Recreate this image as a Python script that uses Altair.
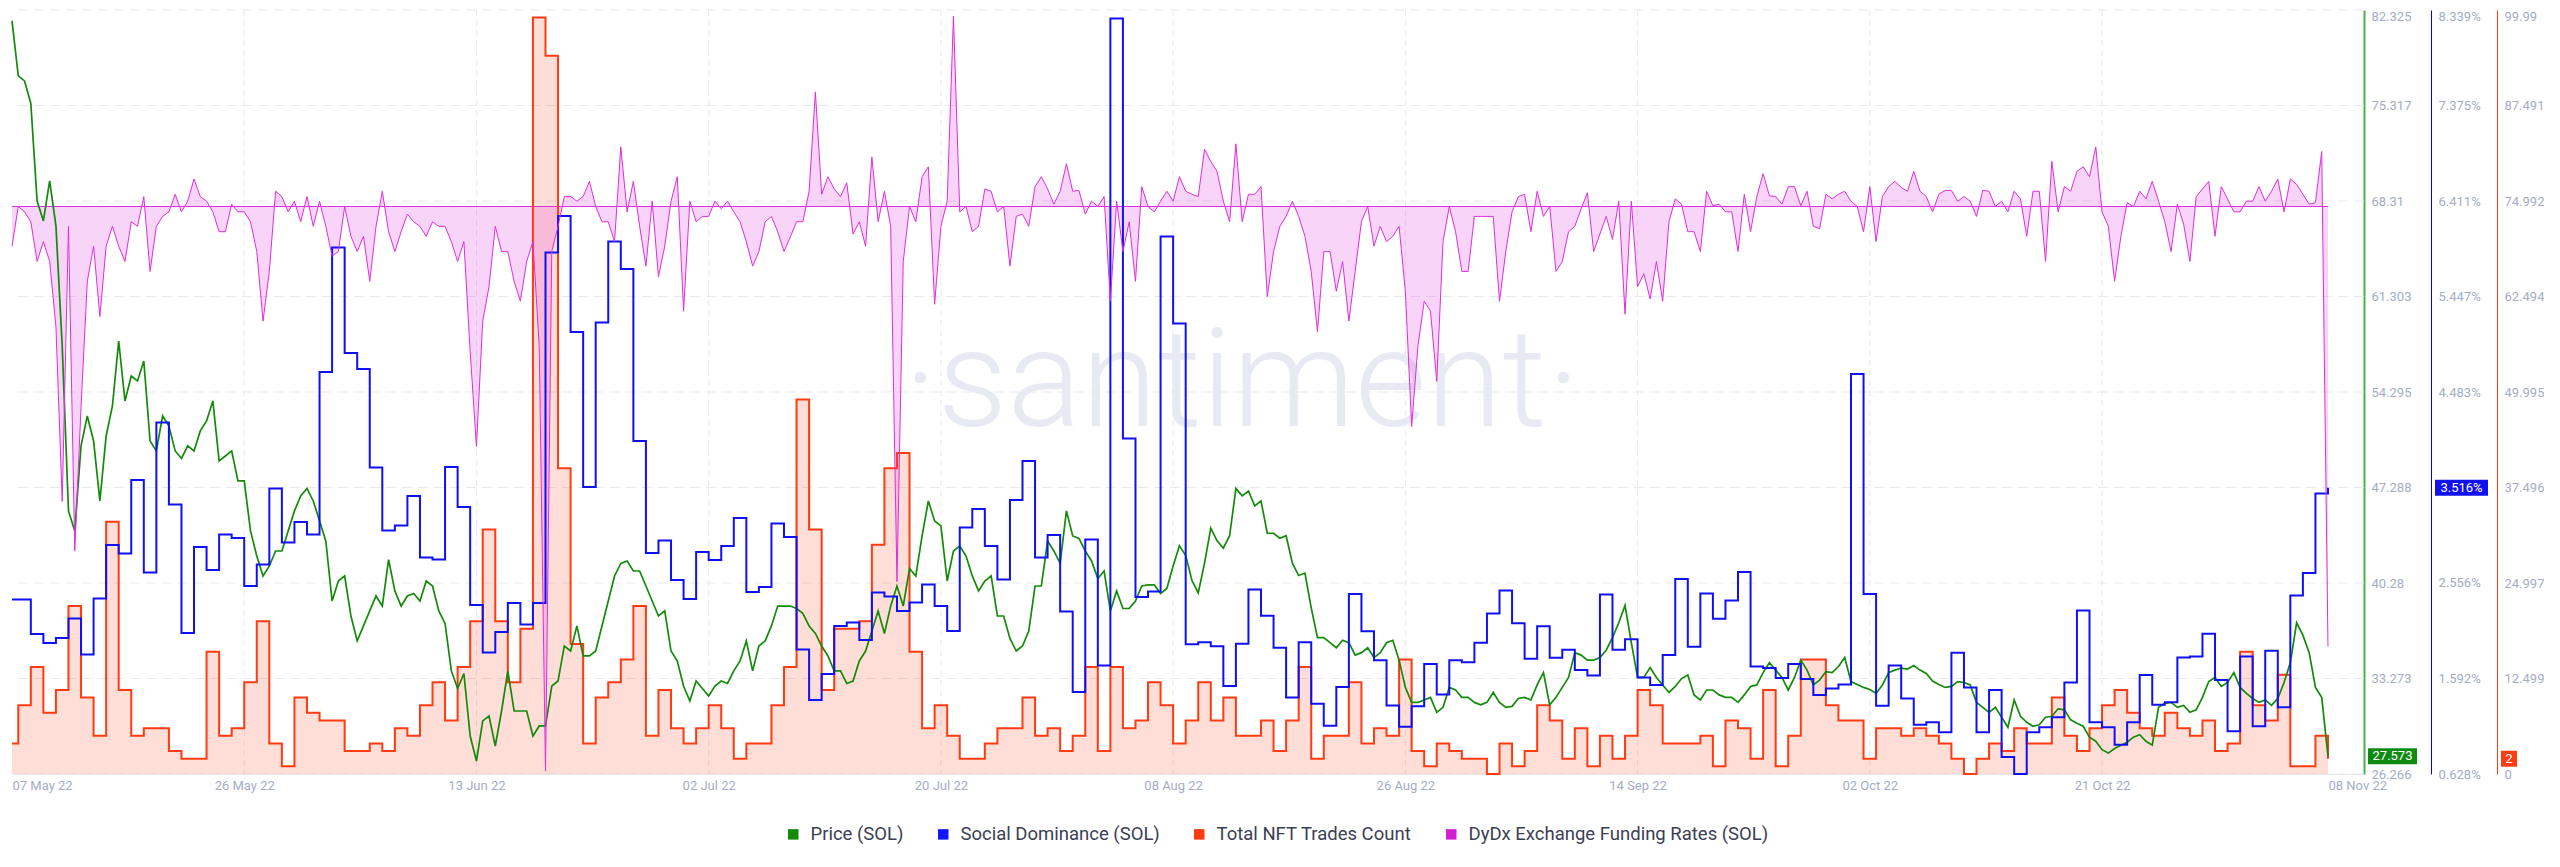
import altair as alt
import pandas as pd

# ---------------- data ----------------
# Price (SOL), USD, every 12 hours from 2022-05-07 12:00 UTC to 2022-11-08 00:00 UTC
price_sol = [
    81.52, 77.49, 77.12, 75.47, 68.31, 66.85, 69.78, 66.48, 57.67, 45.57,
    44.10, 50.34, 52.54, 50.70, 46.30, 51.07, 53.27, 58.04, 53.64, 55.47,
    55.11, 56.57, 50.70, 49.97, 52.54, 51.80, 49.97, 49.42, 50.34, 49.97,
    51.44, 52.17, 53.64, 49.24, 49.60, 49.97, 47.77, 47.77, 44.10, 42.26,
    40.80, 41.53, 42.63, 42.63, 44.10, 45.57, 46.67, 47.22, 46.30, 44.83,
    43.36, 38.96, 40.43, 40.80, 37.86, 36.03, 37.13, 38.23, 39.33, 38.59,
    42.00, 39.70, 38.59, 39.33, 39.51, 38.96, 40.43, 40.06, 38.23, 37.31,
    33.83, 32.54, 33.64, 29.05, 27.22, 30.16, 30.52, 28.32, 30.89, 33.83,
    30.89, 30.89, 30.89, 29.05, 29.79, 29.79, 32.72, 33.09, 35.66, 35.29,
    37.13, 34.93, 34.93, 35.29, 37.13, 38.96, 40.80, 41.72, 41.90, 41.16,
    41.16, 40.06, 38.96, 37.86, 38.23, 35.29, 34.56, 32.72, 31.62, 33.09,
    32.54, 31.99, 32.72, 33.09, 32.91, 33.83, 34.56, 36.03, 33.83, 35.66,
    36.03, 37.13, 38.59, 38.59, 38.59, 38.41, 38.05, 37.13, 36.58, 35.66,
    34.93, 33.83, 33.83, 32.91, 33.09, 34.56, 35.29, 36.76, 38.23, 36.58,
    38.59, 40.06, 38.59, 41.35, 40.80, 43.73, 46.30, 44.83, 44.47, 40.43,
    42.63, 43.00, 42.26, 40.80, 39.70, 40.43, 40.80, 37.86, 37.86, 36.21,
    35.29, 35.66, 36.76, 40.06, 40.06, 43.36, 42.63, 41.72, 45.57, 43.73,
    43.55, 42.63, 41.90, 40.61, 41.16, 38.23, 39.70, 38.41, 38.41, 38.96,
    40.06, 40.14, 40.14, 39.51, 39.88, 41.53, 43.02, 42.29, 40.46, 39.55,
    41.74, 44.30, 43.38, 42.84, 43.75, 47.21, 46.67, 47.03, 45.94, 46.30,
    43.93, 43.93, 43.57, 43.75, 41.74, 40.83, 41.01, 38.46, 36.27, 36.27,
    35.90, 35.53, 36.08, 35.90, 34.99, 35.17, 35.53, 34.81, 35.17, 35.90,
    36.08, 34.62, 32.62, 31.52, 31.52, 31.70, 31.89, 30.79, 31.16, 32.62,
    32.43, 31.89, 31.89, 31.52, 31.34, 31.52, 32.25, 31.52, 31.16, 31.23,
    31.81, 31.89, 31.70, 32.80, 33.71, 31.34, 31.89, 32.62, 33.35, 35.17,
    34.99, 34.62, 34.62, 34.81, 35.35, 36.27, 37.36, 38.64, 35.90, 33.35,
    33.35, 34.07, 33.35, 32.80, 32.25, 32.69, 33.27, 33.53, 32.07, 31.70,
    32.43, 32.43, 32.07, 31.89, 31.89, 31.52, 32.07, 32.69, 32.80, 33.71,
    34.44, 33.89, 33.35, 32.43, 33.35, 34.62, 33.89, 32.80, 33.16, 33.78,
    33.71, 34.15, 34.81, 33.05, 32.83, 32.62, 32.47, 32.18, 32.80, 33.71,
    33.89, 34.04, 33.97, 34.22, 33.89, 33.64, 33.09, 32.83, 32.62, 32.69,
    33.05, 32.98, 32.80, 31.52, 31.16, 30.79, 31.16, 30.43, 29.70, 31.70,
    30.50, 30.06, 29.77, 29.88, 30.43, 30.50, 31.05, 30.97, 30.24, 29.99,
    29.77, 28.97, 28.67, 28.05, 27.80, 28.13, 28.38, 28.60, 28.97, 29.15,
    28.67, 28.38, 31.16, 31.45, 31.52, 31.16, 31.30, 30.79, 30.97, 31.89,
    33.05, 33.35, 32.69, 32.98, 33.71, 32.62, 32.18, 31.81, 31.52, 31.70,
    31.30, 31.81, 32.98, 34.44, 37.36, 36.45, 35.17, 32.62, 31.89, 27.573,
]

# DyDx Exchange Funding Rates (SOL), in thousandths of a percent, same 12-hour steps
funding_rate = [
    -5.2, 0.0, -0.7, -2.0, -7.2, -4.6, -7.2, -15.7, -38.6, -2.6,
    -45.1, -26.2, -9.8, -5.2, -14.4, -5.2, -2.6, -5.2, -7.2, -2.0,
    -2.6, 1.3, -8.5, -2.6, -1.3, -0.7, 1.6, -0.7, 0.7, 3.6,
    1.3, 0.7, -0.7, -3.3, -3.3, 0.3, -0.7, -0.7, -2.0, -5.9,
    -15.0, -8.5, 2.0, 1.3, -0.7, 0.7, -2.0, 1.3, -2.6, 0.7,
    -2.6, -6.5, -5.9, 0.0, -3.9, -5.9, -3.9, -9.8, -2.6, 2.0,
    -3.3, -5.9, -3.3, -1.0, -2.0, -2.6, -3.9, -2.0, -2.6, -2.6,
    -4.6, -7.2, -4.6, -19.0, -31.4, -15.0, -10.5, -2.6, -5.9, -5.9,
    -9.8, -12.4, -7.2, -4.6, -18.3, -73.9, -5.9, -2.6, 1.3, 1.3,
    0.7, 1.3, 3.3, 0.0, -2.0, -2.0, -4.6, 7.8, -0.7, 3.3,
    -2.6, -7.8, 0.7, -9.2, -5.2, 0.7, 3.9, -13.7, 0.7, -2.0,
    -1.3, -1.3, 0.7, -0.3, 0.7, -0.7, -2.0, -4.6, -7.8, -5.9,
    -2.0, -1.3, -3.3, -5.9, -4.0, -2.0, -2.0, 2.0, 15.0, 1.6,
    3.9, 2.3, 1.3, 3.1, -3.6, -2.0, -5.2, 6.5, -2.0, 2.0,
    -2.6, -49.1, -7.2, 0.0, -2.0, 3.9, 5.2, -12.8, -2.6, 0.7,
    24.9, -0.7, 0.0, -3.3, -2.6, 2.3, 2.0, -0.7, 0.0, -7.8,
    -1.3, -1.0, -2.6, 2.6, 3.9, 2.3, 0.3, 2.0, 5.6, 2.0,
    2.1, -1.0, 0.7, 0.0, 1.3, -12.4, 0.7, -5.9, -2.0, -9.8,
    2.6, 0.0, -0.7, 0.7, 2.0, 0.7, 3.9, 2.0, 1.6, 1.3,
    7.5, 5.9, 4.6, 0.7, -2.0, 8.2, -2.0, 1.6, 1.6, 2.6,
    -11.8, -5.9, -2.6, -1.3, 0.7, -1.3, -3.9, -8.5, -16.4, -5.9,
    -5.9, -11.1, -7.2, -15.0, -8.5, -2.0, 0.0, -5.2, -2.6, -4.6,
    -3.9, -2.6, -11.1, -28.8, -18.3, -12.4, -13.7, -22.9, -4.6, 0.0,
    -3.3, -8.5, -8.5, -1.3, -1.3, -1.3, -1.3, -12.4, -5.9, -0.7,
    1.3, 1.6, -3.3, 2.0, -1.3, 0.0, -8.5, -7.2, -3.3, -2.6,
    -0.3, 1.8, -5.9, -3.6, -1.3, -4.3, 0.7, -14.1, 0.7, -10.5,
    -8.8, -12.1, -7.2, -12.4, -2.0, 1.0, 0.3, -3.3, -3.3, -5.9,
    2.0, 0.1, 0.3, -0.7, -0.7, -5.9, 1.6, -3.3, 1.3, 4.3,
    1.4, 1.3, 0.3, 2.6, 2.6, 0.1, 2.0, -2.6, -2.9, 1.6,
    1.0, 1.6, 2.0, 0.7, 0.0, -3.3, 2.6, -4.6, 1.3, 2.6,
    3.3, 2.5, 2.0, 4.6, 2.0, 1.3, -0.7, 1.6, 2.1, 2.1,
    0.7, 1.3, 0.7, -1.3, 2.1, 2.0, 0.0, 0.7, -0.7, 2.0,
    1.0, -3.9, 2.0, 2.0, -7.2, 5.9, -0.7, 2.6, 2.0, 4.6,
    5.2, 3.9, 7.8, -0.7, -2.6, -9.8, -3.9, 0.5, 0.0, 2.0,
    1.0, 3.3, 0.7, -2.0, -5.9, 0.3, -2.3, -7.2, 1.3, 2.3,
    3.3, -3.9, 2.6, 1.0, -0.7, -0.7, 0.7, 0.7, 2.6, 0.7,
    2.0, 3.6, -0.7, 3.6, 2.9, 1.6, 0.3, 0.5, 7.2, -57.6,
]

# Total NFT Trades Count, daily (2022-05-07 ... 2022-11-08)
nft_trades = [
    4, 9, 14, 8, 11, 22, 10, 5, 33, 11, 5, 6, 6, 3, 2, 2, 16, 5, 6, 12,
    20, 4, 1, 10, 8, 7, 7, 3, 3, 4, 3, 6, 5, 9, 12, 7, 14, 20, 32, 20,
    12, 19, 99, 94, 40, 17, 4, 10, 12, 15, 22, 5, 11, 6, 4, 6, 9, 6, 2, 4,
    4, 9, 14, 49, 32, 11, 19, 19, 20, 30, 40, 42, 16, 6, 9, 5, 2, 2, 4, 6,
    6, 10, 5, 6, 3, 5, 14, 3, 14, 6, 7, 12, 9, 4, 7, 12, 7, 10, 5, 5,
    7, 3, 7, 14, 2, 5, 5, 12, 4, 6, 5, 15, 3, 1, 4, 3, 2, 2, 0, 4,
    1, 3, 9, 7, 2, 6, 1, 5, 2, 5, 11, 9, 4, 4, 4, 5, 1, 7, 6, 2,
    11, 1, 5, 15, 15, 9, 7, 7, 2, 6, 6, 5, 6, 5, 4, 2, 0, 2, 4, 3,
    6, 4, 4, 10, 5, 3, 6, 9, 11, 8, 6, 5, 8, 6, 5, 7, 3, 4, 16, 9,
    7, 13, 1, 1, 5, 2,
]

# Social Dominance (SOL), %, daily
social_dominance = [
    2.389, 2.389, 2.040, 1.950, 2.000, 2.197, 1.833, 2.399, 2.939, 2.853,
    3.595, 2.661, 4.175, 3.348, 2.051, 2.919, 2.687, 3.045, 3.010, 2.525,
    2.742, 3.509, 2.964, 3.171, 3.045, 4.685, 5.942, 4.877, 4.715, 3.721,
    3.085, 3.136, 3.434, 2.813, 2.793, 3.726, 3.322, 2.333, 1.854, 2.061,
    2.353, 2.136, 2.353, 5.891, 6.260, 5.089, 3.524, 5.185, 6.002, 5.725,
    3.989, 2.858, 2.984, 2.586, 2.394, 2.868, 2.788, 2.929, 3.211, 2.465,
    2.515, 3.156, 3.020, 1.884, 1.374, 1.637, 2.121, 2.157, 1.980, 2.460,
    2.419, 2.273, 2.358, 2.540, 2.323, 2.071, 3.116, 3.302, 2.929, 2.591,
    3.393, 3.787, 2.813, 3.040, 2.268, 1.455, 2.994, 1.723, 8.253, 4.014,
    2.414, 2.469, 6.053, 5.175, 1.938, 1.958, 1.918, 1.517, 1.943, 2.490,
    2.224, 1.903, 1.401, 1.958, 1.336, 1.115, 1.507, 2.445, 2.069, 1.777,
    1.320, 1.105, 1.311, 1.737, 1.431, 1.777, 1.757, 1.953, 2.249, 2.480,
    2.149, 1.792, 2.119, 1.802, 1.883, 1.677, 1.622, 2.440, 1.883, 1.988,
    1.602, 1.527, 1.828, 2.596, 1.913, 2.450, 2.194, 2.380, 2.666, 1.712,
    1.697, 1.597, 1.737, 1.587, 1.426, 1.491, 1.531, 4.664, 2.445, 1.316,
    1.722, 1.391, 1.125, 1.150, 1.050, 1.853, 1.502, 1.050, 1.476, 0.799,
    0.628, 1.050, 1.100, 1.200, 1.552, 2.279, 1.150, 1.100, 0.924, 1.150,
    1.627, 1.326, 1.351, 1.803, 1.813, 2.044, 1.577, 1.060, 1.813, 1.110,
    1.873, 1.301, 2.430, 2.656, 3.459, 3.516,
]

# axis tick values as printed on the reference
price_ticks = [26.266, 33.273, 40.28, 47.288, 54.295, 61.303, 68.31, 75.317, 82.325]
soc_ticks = [0.628, 1.592, 2.556, 3.52, 4.483, 5.447, 6.411, 7.375, 8.339]
nft_ticks = [0, 12.499, 24.997, 37.496, 49.995, 62.494, 74.992, 87.491, 99.99]
x_tick_dates = [
    "2022-05-07T12:00:00Z", "2022-05-26T00:00:00Z", "2022-06-13T12:00:00Z",
    "2022-07-02T00:00:00Z", "2022-07-20T12:00:00Z", "2022-08-08T00:00:00Z",
    "2022-08-26T12:00:00Z", "2022-09-14T00:00:00Z", "2022-10-02T12:00:00Z",
    "2022-10-21T00:00:00Z", "2022-11-08T00:00:00Z",
]
series_names = ["Price (SOL)", "Social Dominance (SOL)", "Total NFT Trades Count",
                "DyDx Exchange Funding Rates (SOL)"]

# ---------------- styling ----------------
GREEN = "#148a0a"
GREEN_AXIS = "#4caf50"
BLUE = "#1010f5"
RED = "#ff3b12"
MAG = "#dd2fdb"
GRID = "#e6e9f1"
LABEL = "#a4adc6"
FONT = "Roboto"

# ---------------- frames ----------------
half_dates = pd.date_range("2022-05-07 12:00", periods=len(price_sol), freq="12h")
df_half = pd.DataFrame({
    "date": half_dates.strftime("%Y-%m-%dT%H:%M:%SZ"),
    "price": price_sol,
    "funding": funding_rate,
})
day_dates = ["2022-05-07T12:00:00Z"] + list(
    pd.date_range("2022-05-08", periods=len(nft_trades) - 1, freq="D").strftime("%Y-%m-%dT%H:%M:%SZ"))
df_day = pd.DataFrame({"date": day_dates, "nft": nft_trades, "soc": social_dominance})

def ms(s):
    return int(pd.Timestamp(s).value // 10**6)

tick_ms = [ms(s) for s in x_tick_dates]
x_start = ms("2022-05-07T12:00:00Z")
x_end = ms("2022-11-10T20:50:00Z")

x_scale = alt.Scale(type="utc", domain=[x_start, x_end])
price_scale = alt.Scale(domain=[price_ticks[0], price_ticks[-1]], nice=False, zero=False)
soc_scale = alt.Scale(domain=[soc_ticks[0], soc_ticks[-1]], nice=False, zero=False)
nft_scale = alt.Scale(domain=[nft_ticks[0], nft_ticks[-1]], nice=False, zero=False)
fund_scale = alt.Scale(domain=[-74.28, 25.72], nice=False, zero=False)

x_axis = alt.Axis(
    values=tick_ms,
    labelExpr="utcFormat(datum.value, '%d %b %y')",
    labelAlign={"condition": {"test": f"datum.value <= {tick_ms[0]} || datum.value >= {tick_ms[-1]}",
                              "value": "left"}, "value": "center"},
    grid=False, ticks=False, domain=True, domainColor="#e3e7ef",
    labelColor=LABEL, labelFontSize=13, labelFont=FONT, labelPadding=5,
    title=None, labelOverlap=False, labelFlush=False, labelBound=False,
)
X = alt.X("date:T", scale=x_scale, axis=x_axis)

def y_axis(offset, color, width, top_value, **kw):
    return alt.Axis(orient="right", offset=offset, domainColor=color, domainWidth=width,
                    ticks=False, labelPadding=7, labelColor=LABEL, labelFontSize=13,
                    labelFont=FONT, title=None, grid=False, labelOverlap=False,
                    labelBaseline={"condition": {"test": f"datum.value >= {top_value}",
                                                 "value": "top"}, "value": "middle"},
                    **kw)

green_axis = y_axis(0, GREEN_AXIS, 2, price_ticks[-1] - 0.001, values=price_ticks, format=".5~r")
blue_axis = y_axis(67, "#0000ff", 1, soc_ticks[-1] - 0.0001, values=soc_ticks,
                   labelExpr="format(datum.value, '.3f') + '%'")
red_axis = y_axis(133, RED, 1, nft_ticks[-1] - 0.001, values=nft_ticks, format=".5~r")

# ---------------- layers ----------------
hgrid = alt.Chart(pd.DataFrame({"v": price_ticks})).mark_rule(
    color=GRID, strokeDash=[10, 6], strokeWidth=1).encode(
    y=alt.Y("v:Q", scale=price_scale, axis=None))

vgrid = alt.Chart(pd.DataFrame({"date": x_tick_dates[1:-1]})).mark_rule(
    color=GRID, strokeDash=[6, 4], strokeWidth=1).encode(x=X)

watermark = alt.Chart(pd.DataFrame({"t": ["·santiment·"]})).mark_text(
    font=FONT, fontSize=138, fontWeight=300, color="#e7eaf3",
    align="center", baseline="alphabetic").encode(
    text="t:N", x=alt.value(1230), y=alt.value(416))

nft_area = alt.Chart(df_day).mark_area(
    interpolate="step-after", color=RED, opacity=0.17).encode(
    x=X, y=alt.Y("nft:Q", scale=nft_scale, axis=None))

fund_area = alt.Chart(df_half).mark_area(color=MAG, opacity=0.2).encode(
    x=X, y=alt.Y("funding:Q", scale=fund_scale, axis=None), y2=alt.datum(0))

fund_base = alt.Chart(pd.DataFrame({
    "date": [day_dates[0]], "date2": [day_dates[-1]], "z": [0]})).mark_rule(
    color=MAG, strokeWidth=1.2).encode(
    x=X, x2="date2:T", y=alt.Y("z:Q", scale=fund_scale, axis=None))

nft_line = alt.Chart(df_day).mark_line(
    interpolate="step-after", color=RED, strokeWidth=2).encode(
    x=X, y=alt.Y("nft:Q", scale=nft_scale, axis=red_axis))

price_line = alt.Chart(df_half).mark_line(color=GREEN, strokeWidth=1.7).encode(
    x=X, y=alt.Y("price:Q", scale=price_scale, axis=green_axis))

soc_line = alt.Chart(df_day).mark_line(
    interpolate="step-after", color=BLUE, strokeWidth=2).encode(
    x=X, y=alt.Y("soc:Q", scale=soc_scale, axis=blue_axis))

fund_line = alt.Chart(df_half).mark_line(color=MAG, strokeWidth=1).encode(
    x=X, y=alt.Y("funding:Q", scale=fund_scale, axis=None))

def badge(value, label, scale, color, x1, x2):
    d = pd.DataFrame({"v": [value], "label": [label]})
    rect = alt.Chart(d).mark_rect(color=color, yOffset=-8, y2Offset=8).encode(
        x=alt.value(x1), x2=alt.value(x2),
        y=alt.Y("v:Q", scale=scale, axis=None), y2="v:Q")
    txt = alt.Chart(d).mark_text(color="white", fontSize=13, font=FONT,
                                 align="center", baseline="middle").encode(
        x=alt.value((x1 + x2) / 2), y=alt.Y("v:Q", scale=scale, axis=None), text="label:N")
    return [rect, txt]

badges = (badge(price_sol[-1], f"{price_sol[-1]}", price_scale, "#108a10", 2356, 2405)
          + badge(social_dominance[-1], f"{social_dominance[-1]}%", soc_scale, "#1010f0", 2423, 2476)
          + badge(nft_trades[-1], f"{nft_trades[-1]}", nft_scale, RED, 2489, 2505))

legend_layer = alt.Chart(pd.DataFrame({"series": series_names})).mark_square(
    opacity=0, size=0).encode(
    color=alt.Color("series:N",
                    scale=alt.Scale(domain=series_names, range=[GREEN, "#1414ff", RED, "#d41ed4"]),
                    legend=alt.Legend(title=None, orient="none", legendX=772, legendY=815,
                                      direction="horizontal", symbolType="square",
                                      symbolSize=110, symbolOpacity=1, symbolStrokeWidth=0,
                                      labelFontSize=18.5, labelFont=FONT, labelColor="#3b4052",
                                      labelOffset=8, labelLimit=1000, columnPadding=30,
                                      padding=0)))

chart = alt.layer(
    hgrid, vgrid, watermark, nft_area, fund_area, fund_base,
    nft_line, price_line, soc_line, fund_line, *badges, legend_layer,
).resolve_scale(y="independent").properties(
    width=2352, height=764,
    padding={"left": 0, "top": 1, "right": 0, "bottom": 0},
    background="white",
).configure_view(strokeWidth=0)

chart.save("out.html", embed_options={"renderer": "svg", "actions": False})
